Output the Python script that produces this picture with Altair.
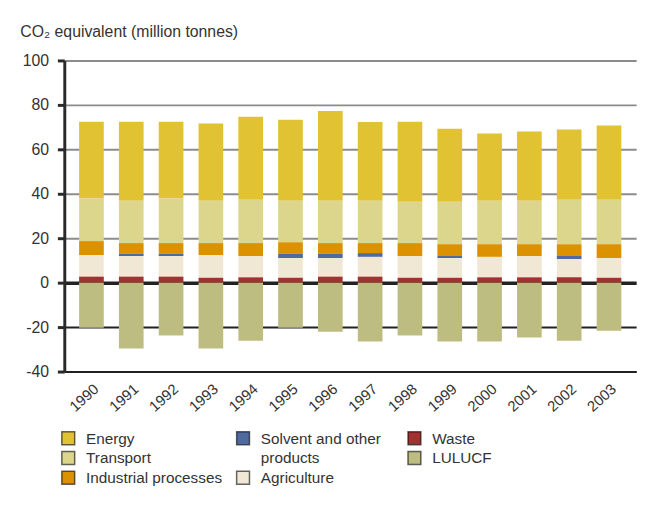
import altair as alt
import pandas as pd

years = [str(y) for y in range(1990, 2004)]

series = ["Energy", "Transport", "Industrial processes", "Solvent and other products",
          "Agriculture", "Waste", "LULUCF"]
colors = ["#e0c232", "#dcd68c", "#db9100", "#4f6a9f", "#f0e8d4", "#a03230", "#bdbd82"]

energy = [34.5, 35.5, 34.5, 34.7, 37.4, 36.4, 40.4, 35.4, 36.0, 32.9, 30.2, 31.1, 31.6, 33.4]
transport = [19.2, 19.1, 20.1, 19.1, 19.5, 18.7, 19.1, 19.1, 18.6, 19.1, 19.6, 19.6, 20.0, 20.0]
industrial = [6.3, 4.8, 4.8, 5.4, 5.8, 5.2, 4.8, 4.5, 5.8, 5.3, 5.7, 5.3, 5.3, 6.2]
solvent = [0.0, 1.0, 1.0, 0.0, 0.0, 1.9, 1.9, 1.7, 0.0, 0.9, 0.0, 0.0, 1.3, 0.0]
agriculture = [9.7, 9.3, 9.3, 10.2, 9.6, 8.9, 8.4, 8.9, 9.8, 8.9, 9.2, 9.6, 8.3, 8.9]
waste = [2.7, 2.7, 2.7, 2.2, 2.4, 2.2, 2.7, 2.7, 2.2, 2.2, 2.4, 2.4, 2.4, 2.2]
lulucf = [-20.3, -29.6, -23.8, -29.6, -26.1, -20.3, -22.1, -26.5, -23.8, -26.5, -26.5, -24.7, -26.1, -21.6]

y_ticks = [-40, -20, 0, 20, 40, 60, 80, 100]

values = [energy, transport, industrial, solvent, agriculture, waste, lulucf]
stack_order = {"Waste": 0, "Agriculture": 1, "Solvent and other products": 2,
               "Industrial processes": 3, "Transport": 4, "Energy": 5, "LULUCF": 0}

rows = []
for s, vals in zip(series, values):
    for y, v in zip(years, vals):
        rows.append({"year": y, "series": s, "value": v, "ord": stack_order[s]})
df = pd.DataFrame(rows)

# legend layout (column, row) in the original legend
legend_pos = {"Energy": (0, 0), "Transport": (0, 1), "Industrial processes": (0, 2),
              "Solvent and other products": (1, 0), "Agriculture": (1, 2),
              "Waste": (2, 0), "LULUCF": (2, 1)}
col_x = [4, 181, 354.5]
leg = pd.DataFrame([
    {"series": s,
     "label": s.replace("Solvent and other products", "Solvent and other\nproducts"),
     "lx": col_x[legend_pos[s][0]], "ly": 382.5 + 20 * legend_pos[s][1]}
    for s in series])

FONT = "Liberation Sans"
color_scale = alt.Scale(domain=series, range=colors)

bars = alt.Chart(df).mark_bar().encode(
    x=alt.X("year:O", title=None,
            scale=alt.Scale(paddingInner=0.38, paddingOuter=0.372),
            axis=alt.Axis(labelAngle=-42, labelAlign="right", labelBaseline="middle",
                          labelFontSize=15, labelColor="#333", labelPadding=15,
                          labelOffset=5, ticks=False, domainColor="#222",
                          domainWidth=1.5, labelFont=FONT)),
    y=alt.Y("value:Q", stack="zero",
            scale=alt.Scale(domain=[-40, 100], nice=False),
            axis=alt.Axis(values=y_ticks, title="CO₂ equivalent (million tonnes)",
                          labelExpr="'' + datum.value",
                          titleAngle=0, titleAlign="left", titleBaseline="alphabetic",
                          titleX=-45, titleY=-24, titleFontSize=16,
                          titleFontWeight="normal", titleColor="#333", titleFont=FONT,
                          labelFontSize=16, labelColor="#333", labelPadding=9,
                          labelFont=FONT,
                          tickSize=7, tickWidth=3, tickColor="#2a2a2a",
                          domainColor="#2a2a2a", domainWidth=3,
                          grid=True,
                          gridColor=alt.condition("datum.value > 0", alt.value("#8c8c8c"), alt.value("#222")),
                          gridWidth=alt.condition("datum.value == 0", alt.value(3.5),
                                                  alt.value(2)))),
    color=alt.Color("series:N", scale=color_scale, legend=None),
    order=alt.Order("ord:Q"),
)

leg_sym = alt.Chart(leg).mark_square(size=169, stroke="#000", strokeOpacity=0.6,
                                     strokeWidth=1.5, opacity=1).encode(
    x=alt.X("lx:Q", scale=None, axis=None),
    y=alt.Y("ly:Q", scale=None, axis=None),
    color=alt.Color("series:N", scale=color_scale, legend=None),
)
leg_txt = alt.Chart(leg).mark_text(align="left", baseline="alphabetic", dx=18, dy=5.5,
                                   fontSize=15.5, font=FONT, color="#333",
                                   lineBreak="\n", lineHeight=20).encode(
    x=alt.X("lx:Q", scale=None, axis=None),
    y=alt.Y("ly:Q", scale=None, axis=None),
    text="label:N",
)

chart = alt.layer(bars, leg_sym, leg_txt).resolve_scale(
    x="independent", y="independent"
).properties(
    width=579, height=315,
    autosize=alt.AutoSizeParams(type="none"),
    padding={"left": 57, "top": 50, "right": 12, "bottom": 130},
).configure_view(stroke=None)

chart.save("out.html", embed_options={"renderer": "svg", "actions": False})
